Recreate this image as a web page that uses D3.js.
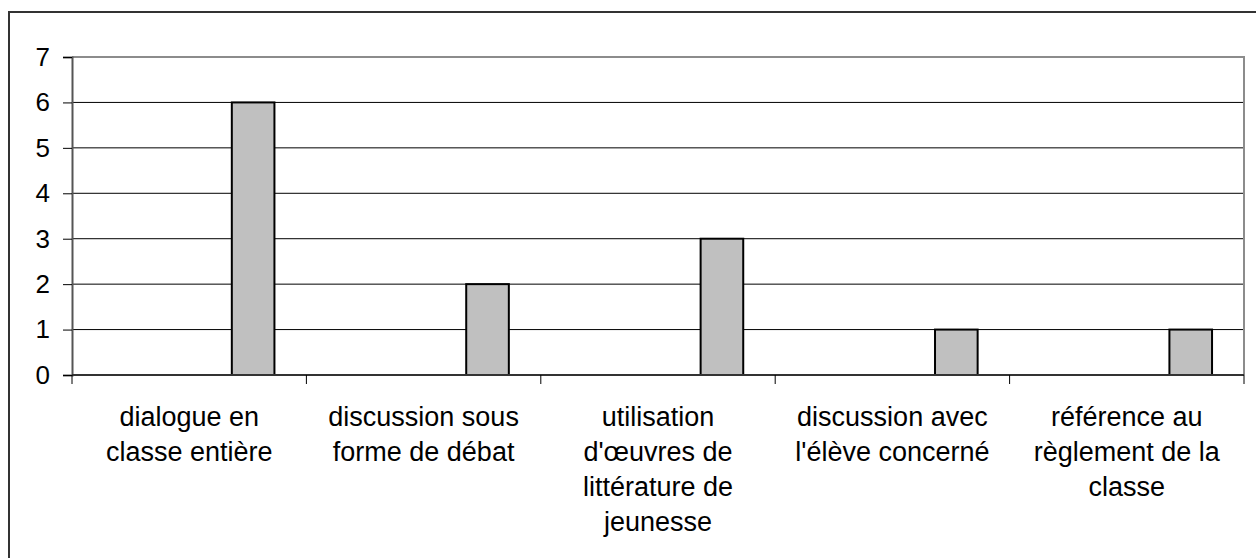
<!DOCTYPE html>
<html>
<head>
<meta charset="utf-8">
<script src="https://cdn.jsdelivr.net/npm/d3@7"></script>
<style>
  body { margin: 0; background: #fff; }
  svg { display: block; font-family: Arial, "Liberation Sans", sans-serif; }
</style>
</head>
<body>
<svg id="chart" width="1256" height="558"></svg>
<script>
// categories (label lines as shown under the axis)
var categories = [
  ["dialogue en", "classe entière"],
  ["discussion sous", "forme de débat"],
  ["utilisation", "d'œuvres de", "littérature de", "jeunesse"],
  ["discussion avec", "l'élève concerné"],
  ["référence au", "règlement de la", "classe"]
];
var values = [6, 2, 3, 1, 1];
var yTicks = [0, 1, 2, 3, 4, 5, 6, 7];
// the bars sit in the last of four series slots
var slots = ["a", "b", "c", "d"];
var shownSlot = "d";

function drawChart() {
  var svg = d3.select("#chart");

  // outer chart frame (runs off right/bottom edges)
  svg.append("rect")
      .attr("x", 9).attr("y", 12)
      .attr("width", 1260).attr("height", 560)
      .attr("fill", "none")
      .attr("stroke", "#333")
      .attr("stroke-width", 2);

  var plotL = 72, plotR = 1244, plotT = 57, plotB = 375;

  var x = d3.scaleBand()
      .domain(d3.range(categories.length))
      .range([plotL, plotR]);

  var xs = d3.scaleBand()
      .domain(slots)
      .range([0, x.bandwidth()])
      .paddingOuter(0.75)
      .paddingInner(0);

  var y = d3.scaleLinear()
      .domain([0, 7])
      .range([plotB, plotT]);

  // gridlines
  svg.append("g")
    .selectAll("line")
    .data(yTicks.filter(function(d) { return d > 0 && d < 7; }))
    .enter().append("line")
      .attr("x1", plotL).attr("x2", plotR)
      .attr("y1", function(d) { return y(d); })
      .attr("y2", function(d) { return y(d); })
      .attr("stroke", "#000")
      .attr("stroke-width", 1);

  // plot area border top/right (grey)
  svg.append("path")
      .attr("d", "M" + plotL + "," + y(7) + "H" + plotR + "V" + plotB)
      .attr("fill", "none")
      .attr("stroke", "#8c8c8c")
      .attr("stroke-width", 2);

  // bars
  svg.append("g")
    .selectAll("rect")
    .data(values)
    .enter().append("rect")
      .attr("x", function(d, i) { return x(i) + xs(shownSlot); })
      .attr("y", function(d) { return y(d); })
      .attr("width", xs.bandwidth())
      .attr("height", function(d) { return y(0) - y(d); })
      .attr("fill", "#c0c0c0")
      .attr("stroke", "#000")
      .attr("stroke-width", 2);

  // y axis
  var yAxis = svg.append("g")
      .attr("transform", "translate(" + plotL + ",0)")
      .call(d3.axisLeft(y).tickValues(yTicks).tickSize(9).tickPadding(13).tickFormat(d3.format("d")));
  yAxis.select(".domain").attr("stroke", "#555").attr("stroke-width", 2);
  yAxis.selectAll(".tick line").attr("stroke", "#000");
  yAxis.selectAll(".tick text")
      .attr("font-size", 26)
      .attr("font-family", "Arial, 'Liberation Sans', sans-serif")
      .attr("fill", "#000");

  // x axis with ticks at category boundaries
  var xAxis = svg.append("g");
  xAxis.append("line")
      .attr("x1", plotL).attr("x2", plotR)
      .attr("y1", plotB).attr("y2", plotB)
      .attr("stroke", "#333")
      .attr("stroke-width", 2);
  xAxis.selectAll(".xt")
    .data(d3.range(categories.length + 1))
    .enter().append("line")
      .attr("x1", function(i) { return plotL + i * x.step(); })
      .attr("x2", function(i) { return plotL + i * x.step(); })
      .attr("y1", plotB).attr("y2", plotB + 9)
      .attr("stroke", "#000")
      .attr("stroke-width", 1);

  // category labels
  var labels = svg.append("g")
    .selectAll("text")
    .data(categories)
    .enter().append("text")
      .attr("text-anchor", "middle")
      .attr("font-size", 27)
      .attr("fill", "#000")
      .attr("x", function(d, i) { return x(i) + x.bandwidth() / 2; })
      .attr("y", 426);

  labels.selectAll("tspan")
    .data(function(d) { return d; })
    .enter().append("tspan")
      .attr("x", function() { return d3.select(this.parentNode).attr("x"); })
      .attr("dy", function(d, i) { return i === 0 ? 0 : 35; })
      .text(function(d) { return d; });
}

drawChart();
</script>
</body>
</html>
